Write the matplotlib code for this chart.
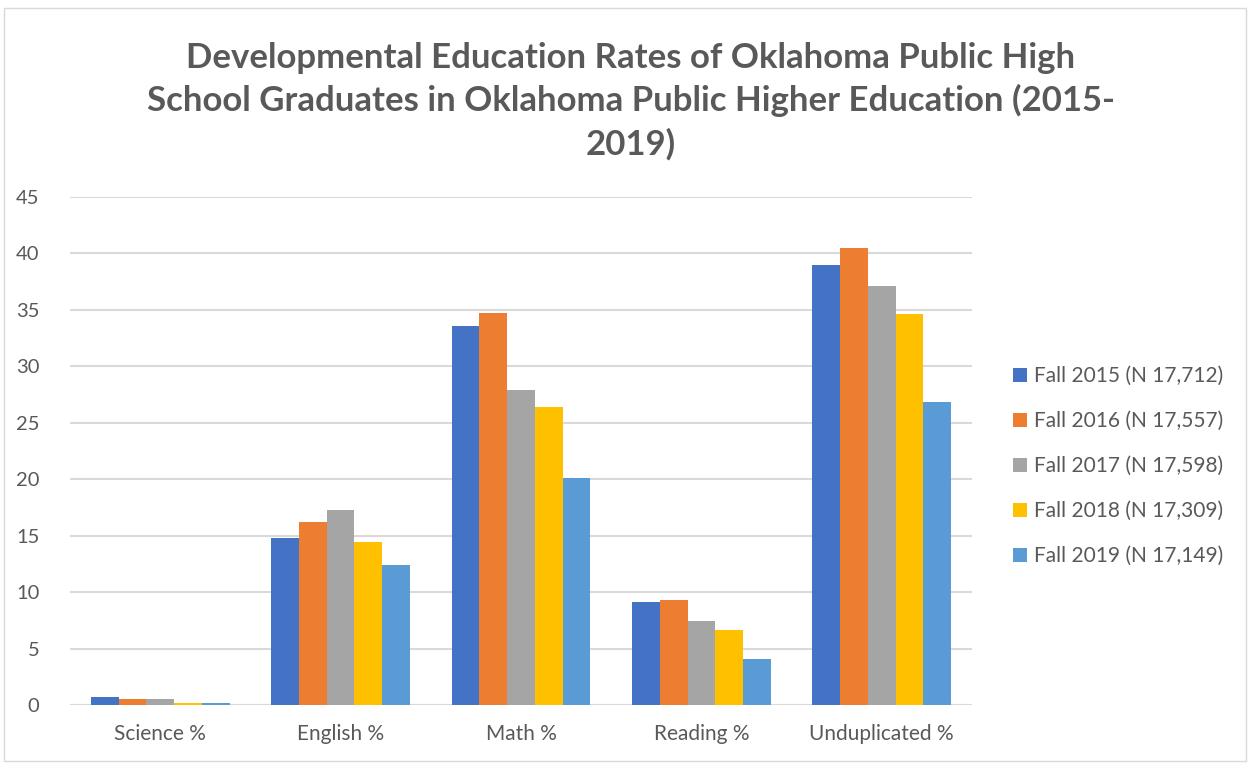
import numpy as np
import matplotlib.pyplot as plt
from matplotlib.patches import Rectangle

plt.rcParams['font.family'] = ['Lato', 'DejaVu Sans']

## data
categories = ['Science %', 'English %', 'Math %', 'Reading %', 'Unduplicated %']
series_names = ['Fall 2015 (N 17,712)', 'Fall 2016 (N 17,557)', 'Fall 2017 (N 17,598)',
                'Fall 2018 (N 17,309)', 'Fall 2019 (N 17,149)']
fall2015 = [0.7, 14.8, 33.6, 9.1, 39.0]
fall2016 = [0.5, 16.2, 34.7, 9.3, 40.5]
fall2017 = [0.5, 17.3, 27.9, 7.4, 37.1]
fall2018 = [0.2, 14.4, 26.4, 6.6, 34.6]
fall2019 = [0.2, 12.4, 20.1, 4.1, 26.8]

colors = ['#4472C4', '#ED7D31', '#A5A5A5', '#FFC000', '#5B9BD5']
text_gray = '#595959'

fig = plt.figure(figsize=(12.52, 7.63), dpi=100)
ax = fig.add_axes([70/1252, 1-705/763, 902/1252, 508/763])

x = np.arange(len(categories))
width = 1/6.5
all_series = [fall2015, fall2016, fall2017, fall2018, fall2019]
for i, vals in enumerate(all_series):
    ax.bar(x + (i - 2) * width, vals, width, color=colors[i], label=series_names[i], zorder=3)

ax.set_xlim(-0.5, 4.5)
ax.set_ylim(0, 45)
ax.set_yticks(range(0, 46, 5))
ax.set_xticks(x)
ax.set_xticklabels(categories)
ax.grid(axis='y', color='#d9d9d9', linewidth=1.5, zorder=0)
for s in ['top', 'right', 'left', 'bottom']:
    ax.spines[s].set_visible(False)
ax.axhline(0, color='#d9d9d9', linewidth=1.5, zorder=2)
ax.tick_params(length=0, colors=text_gray)
ax.tick_params(axis='x', pad=14, labelsize=15)
ax.tick_params(axis='y', pad=22, labelsize=14.5)

fig.text(0.504, 0.945, 'Developmental Education Rates of Oklahoma Public High\n'
         'School Graduates in Oklahoma Public Higher Education (2015-\n2019)',
         ha='center', va='top', fontsize=25, fontweight='bold', color=text_gray,
         linespacing=1.38)

leg = ax.legend(loc='center left', bbox_to_anchor=(1.025, 0.47), frameon=False,
                fontsize=15, labelspacing=1.2, handlelength=0.67, handleheight=0.67,
                handletextpad=0.3)
for t in leg.get_texts():
    t.set_color(text_gray)

fig.patches.append(Rectangle((4/1252, 0.002), 1242/1252, 1-10/763, transform=fig.transFigure,
                             fill=False, edgecolor='#d9d9d9', linewidth=1))

fig.savefig('out.png', dpi=100)
